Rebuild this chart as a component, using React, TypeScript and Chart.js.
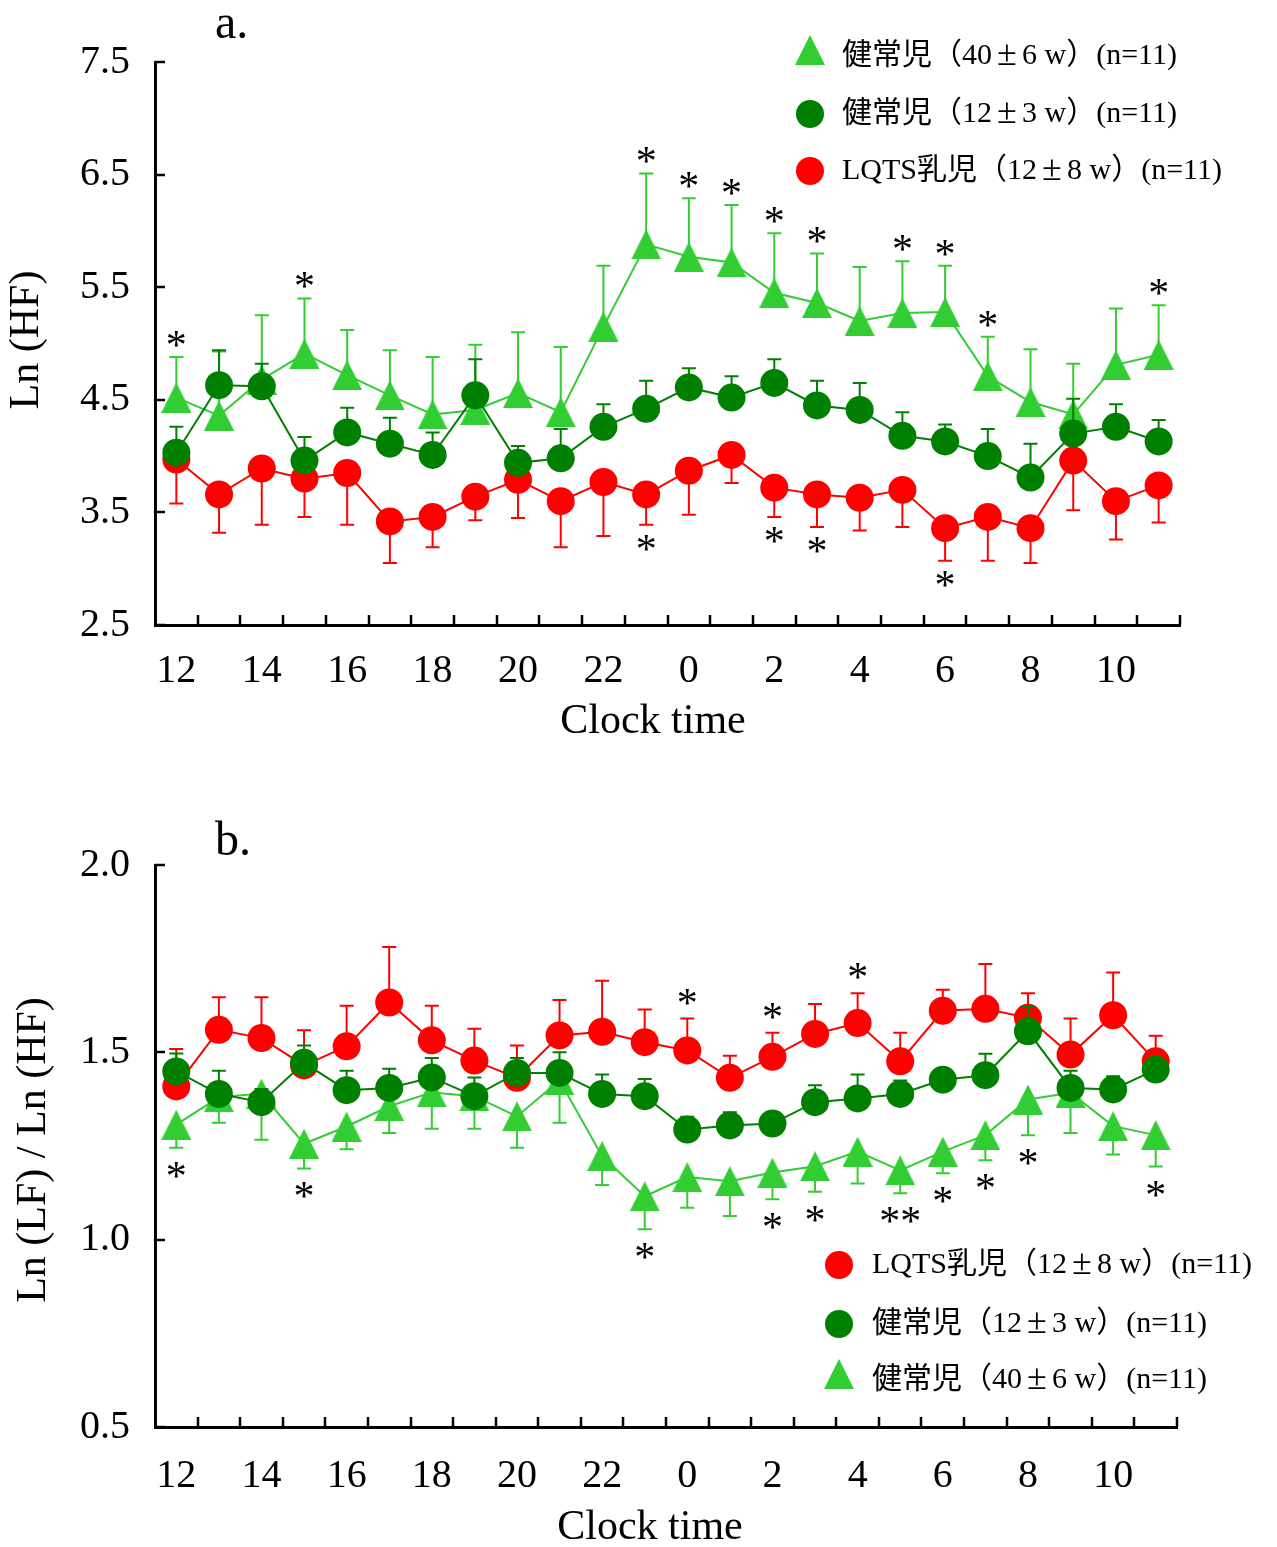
import React, { useEffect, useRef } from "react";
import { Chart, registerables } from "chart.js";

Chart.register(...registerables);

// ---------- data ----------
const HOURS = ["12", "13", "14", "15", "16", "17", "18", "19", "20", "21", "22", "23", "0", "1", "2", "3", "4", "5", "6", "7", "8", "9", "10", "11"];

const LABEL_TERM = "健常児（40±6 w）(n=11)";
const LABEL_YOUNG = "健常児（12±3 w）(n=11)";
const LABEL_LQTS = "LQTS乳児（12±8 w）(n=11)";

// a. Ln (HF)
const HF_TICKS = [2.5, 3.5, 4.5, 5.5, 6.5, 7.5];
const HF_TERM = [4.52, 4.36, 4.68, 4.91, 4.72, 4.54, 4.37, 4.41, 4.56, 4.39, 5.15, 5.88, 5.77, 5.72, 5.45, 5.36, 5.2, 5.27, 5.28, 4.71, 4.48, 4.37, 4.81, 4.9];
const HF_TERM_SD = [0.36, 0.57, 0.57, 0.49, 0.4, 0.4, 0.51, 0.58, 0.54, 0.58, 0.54, 0.63, 0.52, 0.51, 0.53, 0.44, 0.48, 0.46, 0.41, 0.35, 0.47, 0.45, 0.5, 0.44];
const HF_YOUNG = [4.03, 4.63, 4.62, 3.96, 4.21, 4.11, 4.01, 4.54, 3.94, 3.98, 4.26, 4.42, 4.61, 4.52, 4.65, 4.45, 4.41, 4.18, 4.13, 4.0, 3.81, 4.2, 4.26, 4.13];
const HF_YOUNG_SD = [0.23, 0.31, 0.2, 0.21, 0.22, 0.23, 0.2, 0.32, 0.15, 0.26, 0.2, 0.25, 0.17, 0.19, 0.21, 0.22, 0.24, 0.21, 0.15, 0.24, 0.3, 0.31, 0.2, 0.19];
const HF_LQTS = [3.97, 3.66, 3.89, 3.8, 3.85, 3.42, 3.46, 3.64, 3.79, 3.6, 3.77, 3.66, 3.87, 4.01, 3.72, 3.66, 3.63, 3.7, 3.36, 3.46, 3.36, 3.96, 3.6, 3.74];
const HF_LQTS_SD = [0.39, 0.34, 0.5, 0.34, 0.46, 0.37, 0.27, 0.21, 0.34, 0.41, 0.48, 0.27, 0.39, 0.25, 0.26, 0.29, 0.29, 0.33, 0.29, 0.39, 0.31, 0.44, 0.34, 0.33];
const HF_TERM_STARS = ["*", "", "", "*", "", "", "", "", "", "", "", "*", "*", "*", "*", "*", "", "*", "*", "*", "", "", "", "*"];
const HF_LQTS_STARS = ["", "", "", "", "", "", "", "", "", "", "", "*", "", "", "*", "*", "", "", "*", "", "", "", "", ""];

// b. Ln (LF) / Ln (HF)
const LF_TICKS = [0.5, 1.0, 1.5, 2.0];
const LF_LQTS = [1.409, 1.56, 1.538, 1.465, 1.516, 1.633, 1.532, 1.478, 1.432, 1.545, 1.555, 1.527, 1.505, 1.432, 1.488, 1.549, 1.578, 1.476, 1.611, 1.616, 1.592, 1.494, 1.599, 1.476];
const LF_LQTS_SD = [0.1, 0.087, 0.109, 0.094, 0.108, 0.148, 0.092, 0.085, 0.086, 0.095, 0.136, 0.087, 0.085, 0.059, 0.064, 0.08, 0.08, 0.076, 0.056, 0.12, 0.066, 0.096, 0.114, 0.068];
const LF_YOUNG = [1.449, 1.389, 1.367, 1.472, 1.399, 1.405, 1.433, 1.383, 1.445, 1.445, 1.389, 1.383, 1.294, 1.305, 1.31, 1.367, 1.377, 1.389, 1.427, 1.439, 1.556, 1.405, 1.401, 1.454];
const LF_YOUNG_SD = [0.048, 0.062, 0.035, 0.046, 0.052, 0.051, 0.052, 0.05, 0.04, 0.055, 0.052, 0.046, 0.034, 0.035, 0.03, 0.045, 0.064, 0.036, 0.025, 0.057, 0.065, 0.046, 0.035, 0.03];
const LF_TERM = [1.307, 1.38, 1.39, 1.256, 1.302, 1.356, 1.393, 1.383, 1.329, 1.425, 1.223, 1.116, 1.167, 1.156, 1.179, 1.196, 1.235, 1.185, 1.235, 1.279, 1.374, 1.392, 1.303, 1.279];
const LF_TERM_SD = [0.062, 0.068, 0.123, 0.066, 0.061, 0.071, 0.097, 0.087, 0.084, 0.113, 0.077, 0.088, 0.082, 0.093, 0.071, 0.068, 0.085, 0.061, 0.058, 0.067, 0.095, 0.107, 0.076, 0.084];
const LF_LQTS_STARS = ["", "", "", "", "", "", "", "", "", "", "", "", "*", "", "*", "", "*", "", "", "", "", "", "", ""];
const LF_TERM_STARS = ["*", "", "", "*", "", "", "", "", "", "", "", "*", "", "", "*", "*", "", "**", "*", "*", "*", "", "", "*"];

// ---------- styles ----------
const LIME = "#32CD32";
const DKGREEN = "#008000";
const RED = "#FF0000";
const SERIF = "'Liberation Serif', 'Times New Roman', serif";
const LEGEND_FONT = "30px 'Liberation Serif', 'Noto Sans CJK JP', serif";
const PLUSMINUS_FONT = "36px 'Liberation Serif', serif";
const W = 1277;

function makeTriangle(color: string, w: number, h: number) {
  const c = document.createElement("canvas");
  c.width = w;
  c.height = h;
  const g = c.getContext("2d")!;
  g.fillStyle = color;
  g.beginPath();
  g.moveTo(w / 2, 0);
  g.lineTo(w, h);
  g.lineTo(0, h);
  g.closePath();
  g.fill();
  return c;
}

// draws a label, giving "±" a full-width cell as in the original typesetting
function drawLegendText(ctx: CanvasRenderingContext2D, text: string, x: number, y: number) {
  const parts = text.split("±");
  let cx = x;
  parts.forEach((p, i) => {
    if (i > 0) {
      const cell = 30;
      ctx.save();
      ctx.font = PLUSMINUS_FONT;
      const w = ctx.measureText("±").width;
      ctx.fillText("±", cx + (cell - w) / 2, y);
      ctx.restore();
      cx += cell;
    }
    ctx.fillText(p, cx, y);
    cx += ctx.measureText(p).width;
  });
}

type SeriesSpec = {
  label: string;
  data: number[];
  sd: number[];
  dir: number;
  color: string;
  marker: "circle" | "triangle";
  stars?: string[];
};

type PanelSpec = {
  height: number;
  letter: string;
  letterPos: [number, number];
  yTitle: string;
  yTitlePos: [number, number];
  xTitlePos: [number, number];
  yMin: number;
  yMax: number;
  yTicks: number[];
  pad: { top: number; right: number };
  xAxisHeight: number;
  xLabelPad: number;
  starOffset: number;
  series: SeriesSpec[]; // drawing order: first = on top
  legend: { order: number[]; markerX: number; textX: number; rows: number[] };
};

function buildChart(canvas: HTMLCanvasElement, spec: PanelSpec) {
  const tri = makeTriangle(LIME, 30, 30);

  const datasets = spec.series.map((s) => ({
    label: s.label,
    data: s.data,
    sd: s.sd,
    dir: s.dir,
    stars: s.stars,
    borderColor: s.color,
    backgroundColor: s.color,
    borderWidth: 2,
    tension: 0,
    pointStyle: s.marker === "circle" ? "circle" : tri,
    pointRadius: 14,
    pointHoverRadius: 14,
    pointBorderWidth: 0,
    pointBackgroundColor: s.color,
  }));

  const errorBars = {
    id: "errorBars",
    beforeDatasetDraw(chart: any, args: any) {
      const ds = chart.data.datasets[args.index];
      if (!ds.sd) return;
      const y = chart.scales.y;
      const ctx = chart.ctx;
      ctx.save();
      ctx.strokeStyle = ds.borderColor;
      ctx.lineWidth = 2;
      args.meta.data.forEach((pt: any, i: number) => {
        const end = ds.data[i] + ds.dir * ds.sd[i];
        const py = y.getPixelForValue(end);
        ctx.beginPath();
        ctx.moveTo(pt.x, pt.y);
        ctx.lineTo(pt.x, py);
        ctx.moveTo(pt.x - 7, py);
        ctx.lineTo(pt.x + 7, py);
        ctx.stroke();
      });
      ctx.restore();
    },
  };

  const stars = {
    id: "stars",
    afterDatasetsDraw(chart: any) {
      const ctx = chart.ctx;
      const y = chart.scales.y;
      ctx.save();
      ctx.fillStyle = "#000";
      ctx.font = `42px ${SERIF}`;
      ctx.textAlign = "center";
      ctx.textBaseline = "alphabetic";
      const m = ctx.measureText("*");
      const shift = (m.actualBoundingBoxAscent - m.actualBoundingBoxDescent) / 2;
      chart.data.datasets.forEach((ds: any, di: number) => {
        if (!ds.stars) return;
        const meta = chart.getDatasetMeta(di);
        ds.stars.forEach((txt: string, i: number) => {
          if (!txt) return;
          const cap = y.getPixelForValue(ds.data[i] + ds.dir * ds.sd[i]);
          const cy = cap - ds.dir * spec.starOffset;
          ctx.fillText(txt, meta.data[i].x, cy + shift);
        });
      });
      ctx.restore();
    },
  };

  const decor = {
    id: "decor",
    afterDraw(chart: any) {
      const ctx = chart.ctx;
      const xs = chart.scales.x;
      const ys = chart.scales.y;
      const area = chart.chartArea;
      ctx.save();
      // inward tick marks
      ctx.strokeStyle = "#000";
      ctx.lineWidth = 2.5;
      const n = HOURS.length;
      const step = xs.getPixelForValue(1) - xs.getPixelForValue(0);
      for (let k = 1; k <= n; k++) {
        const bx = Math.round(xs.getPixelForValue(k - 1) + step / 2);
        ctx.beginPath();
        ctx.moveTo(bx, area.bottom);
        ctx.lineTo(bx, area.bottom - 10);
        ctx.stroke();
      }
      spec.yTicks.forEach((v) => {
        const py = Math.round(ys.getPixelForValue(v));
        ctx.beginPath();
        ctx.moveTo(area.left, py);
        ctx.lineTo(area.left + 10, py);
        ctx.stroke();
      });

      ctx.fillStyle = "#000";
      // panel letter
      ctx.font = `48px ${SERIF}`;
      ctx.textAlign = "left";
      ctx.textBaseline = "alphabetic";
      ctx.fillText(spec.letter, spec.letterPos[0], spec.letterPos[1]);

      // x title
      ctx.font = `42px ${SERIF}`;
      ctx.textAlign = "center";
      ctx.textBaseline = "middle";
      ctx.fillText("Clock time", spec.xTitlePos[0], spec.xTitlePos[1]);

      // y title
      ctx.save();
      ctx.translate(spec.yTitlePos[0], spec.yTitlePos[1]);
      ctx.rotate(-Math.PI / 2);
      ctx.fillText(spec.yTitle, 0, 0);
      ctx.restore();

      // legend
      ctx.font = LEGEND_FONT;
      ctx.textAlign = "left";
      ctx.textBaseline = "middle";
      spec.legend.order.forEach((si, r) => {
        const s = spec.series[si];
        const ry = spec.legend.rows[r];
        if (s.marker === "circle") {
          ctx.fillStyle = s.color;
          ctx.beginPath();
          ctx.arc(spec.legend.markerX, ry, 14, 0, Math.PI * 2);
          ctx.fill();
        } else {
          ctx.drawImage(tri, spec.legend.markerX - 15, ry - 6 - 15, 30, 30);
        }
        ctx.fillStyle = "#000";
        drawLegendText(ctx, s.label, spec.legend.textX, ry);
      });
      ctx.restore();
    },
  };

  const gridOpts = { display: true, drawOnChartArea: false, drawTicks: false, color: "rgba(0,0,0,0)" };
  const borderOpts = { display: true, color: "#000", width: 3 };

  return new Chart(canvas, {
    type: "line",
    data: { labels: HOURS, datasets: datasets as any },
    plugins: [errorBars, stars, decor],
    options: {
      responsive: false,
      animation: false,
      events: [],
      layout: { padding: { left: 0, right: spec.pad.right, top: spec.pad.top, bottom: 0 } },
      plugins: { legend: { display: false }, tooltip: { enabled: false } },
      scales: {
        x: {
          type: "category",
          offset: true,
          grid: { ...gridOpts, offset: true },
          border: borderOpts,
          ticks: {
            autoSkip: false,
            maxRotation: 0,
            minRotation: 0,
            padding: spec.xLabelPad,
            color: "#000",
            font: { family: SERIF, size: 40 },
            callback: (_v: any, i: number) => (i % 2 === 0 ? HOURS[i] : ""),
          },
          afterFit: (s: any) => {
            s.height = spec.xAxisHeight;
          },
        },
        y: {
          type: "linear",
          min: spec.yMin,
          max: spec.yMax,
          grid: gridOpts,
          border: borderOpts,
          ticks: {
            padding: 25,
            color: "#000",
            font: { family: SERIF, size: 40 },
            callback: (v: any) => Number(v).toFixed(1),
          },
          afterBuildTicks: (s: any) => {
            s.ticks = spec.yTicks.map((v) => ({ value: v }));
          },
          afterFit: (s: any) => {
            s.width = 155;
          },
        },
      },
    } as any,
  });
}

const PANEL_A: PanelSpec = {
  height: 770,
  letter: "a.",
  letterPos: [215, 38],
  yTitle: "Ln (HF)",
  yTitlePos: [27, 340],
  xTitlePos: [653, 722],
  yMin: 2.5,
  yMax: 7.5,
  yTicks: HF_TICKS,
  pad: { top: 62, right: W - 1180 },
  xAxisHeight: 770 - 625,
  xLabelPad: 22,
  starOffset: 18,
  series: [
    { label: LABEL_YOUNG, data: HF_YOUNG, sd: HF_YOUNG_SD, dir: 1, color: DKGREEN, marker: "circle" },
    { label: LABEL_LQTS, data: HF_LQTS, sd: HF_LQTS_SD, dir: -1, color: RED, marker: "circle", stars: HF_LQTS_STARS },
    { label: LABEL_TERM, data: HF_TERM, sd: HF_TERM_SD, dir: 1, color: LIME, marker: "triangle", stars: HF_TERM_STARS },
  ],
  legend: { order: [2, 0, 1], markerX: 810, textX: 842, rows: [56, 114, 171] },
};

const PANEL_B: PanelSpec = {
  height: 777,
  letter: "b.",
  letterPos: [215, 85],
  yTitle: "Ln (LF) / Ln (HF)",
  yTitlePos: [34, 380],
  xTitlePos: [650, 758],
  yMin: 0.5,
  yMax: 2.0,
  yTicks: LF_TICKS,
  pad: { top: 95, right: W - 1177 },
  xAxisHeight: 777 - 657,
  xLabelPad: 25,
  starOffset: 22,
  series: [
    { label: LABEL_YOUNG, data: LF_YOUNG, sd: LF_YOUNG_SD, dir: 1, color: DKGREEN, marker: "circle" },
    { label: LABEL_LQTS, data: LF_LQTS, sd: LF_LQTS_SD, dir: 1, color: RED, marker: "circle", stars: LF_LQTS_STARS },
    { label: LABEL_TERM, data: LF_TERM, sd: LF_TERM_SD, dir: -1, color: LIME, marker: "triangle", stars: LF_TERM_STARS },
  ],
  legend: { order: [1, 0, 2], markerX: 839, textX: 872, rows: [495, 554, 610] },
};

function Panel({ spec }: { spec: PanelSpec }) {
  const ref = useRef<HTMLCanvasElement>(null);
  useEffect(() => {
    if (!ref.current) return;
    const chart = buildChart(ref.current, spec);
    return () => chart.destroy();
  }, [spec]);
  return (
    <canvas
      ref={ref}
      width={W}
      height={spec.height}
      style={{ display: "block", width: W, height: spec.height }}
    />
  );
}

export default function App() {
  useEffect(() => {
    document.body.style.margin = "0";
    document.body.style.background = "#fff";
  }, []);
  return (
    <div style={{ width: W, background: "#fff" }}>
      <Panel spec={PANEL_A} />
      <Panel spec={PANEL_B} />
    </div>
  );
}
